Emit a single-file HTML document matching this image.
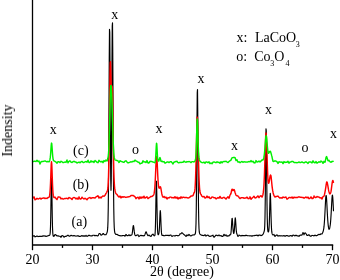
<!DOCTYPE html>
<html><head><meta charset="utf-8"><style>
html,body{margin:0;padding:0;background:#fff;overflow:hidden;}
svg{display:block;}
.t{filter:grayscale(1);}
text{font-family:"Liberation Serif",serif;font-size:14px;fill:#000;}
</style></head><body>
<svg width="340" height="280" viewBox="0 0 340 280">
<rect width="340" height="280" fill="#fff"/>
<polyline fill="none" stroke="#000" stroke-width="1.15" stroke-linejoin="round" points="33.00,236.5 33.25,236.2 33.50,236.0 33.75,235.8 34.00,235.6 34.25,235.9 34.50,236.2 34.75,236.5 35.00,236.8 35.25,236.7 35.50,236.6 35.75,236.6 36.00,236.5 36.25,236.4 36.50,236.2 36.75,236.1 37.00,236.0 37.25,236.1 37.50,236.3 37.75,236.4 38.00,236.6 38.25,236.5 38.50,236.5 38.75,236.5 39.00,236.4 39.25,236.4 39.50,236.4 39.75,236.4 40.00,236.4 40.25,236.4 40.50,236.3 40.75,236.3 41.00,236.2 41.25,236.3 41.50,236.4 41.75,236.4 42.00,236.5 42.25,236.3 42.50,236.1 42.75,236.0 43.00,235.8 43.25,235.9 43.50,235.9 43.75,236.0 44.00,236.1 44.25,236.0 44.50,236.0 44.75,235.9 45.00,235.9 45.25,236.0 45.50,236.2 45.75,236.3 46.00,236.5 46.25,236.4 46.50,236.3 46.75,236.2 47.00,236.1 47.25,236.0 47.50,236.0 47.75,235.9 48.00,235.8 48.25,235.7 48.50,235.6 48.75,235.5 49.00,235.4 49.25,235.4 49.50,235.3 49.75,235.1 50.00,234.4 50.25,232.3 50.50,226.8 50.75,216.2 51.00,200.5 51.25,185.0 51.50,178.1 51.75,184.9 52.00,200.4 52.25,216.2 52.50,227.2 52.75,232.8 53.00,235.2 53.25,236.0 53.50,236.2 53.75,236.3 54.00,236.3 54.25,235.9 54.50,235.4 54.75,234.9 55.00,234.5 55.25,234.6 55.50,234.7 55.75,234.9 56.00,235.0 56.25,235.2 56.50,235.5 56.75,235.7 57.00,236.0 57.25,235.9 57.50,235.9 57.75,235.9 58.00,235.8 58.25,235.9 58.50,236.0 58.75,236.1 59.00,236.2 59.25,236.2 59.50,236.2 59.75,236.2 60.00,236.2 60.25,236.5 60.50,236.7 60.75,237.0 61.00,237.3 61.25,236.8 61.50,236.4 61.75,235.9 62.00,235.5 62.25,235.6 62.50,235.7 62.75,235.8 63.00,235.9 63.25,236.2 63.50,236.5 63.75,236.9 64.00,237.2 64.25,237.0 64.50,236.8 64.75,236.6 65.00,236.4 65.25,236.4 65.50,236.4 65.75,236.4 66.00,236.4 66.25,236.3 66.50,236.1 66.75,235.9 67.00,235.8 67.25,235.6 67.50,235.5 67.75,235.3 68.00,235.2 68.25,235.4 68.50,235.6 68.75,235.9 69.00,236.1 69.25,236.1 69.50,236.1 69.75,236.1 70.00,236.1 70.25,235.9 70.50,235.7 70.75,235.5 71.00,235.4 71.25,235.4 71.50,235.5 71.75,235.6 72.00,235.7 72.25,235.7 72.50,235.8 72.75,235.9 73.00,236.0 73.25,235.9 73.50,235.7 73.75,235.6 74.00,235.5 74.25,235.6 74.50,235.7 74.75,235.8 75.00,236.0 75.25,236.0 75.50,236.0 75.75,236.0 76.00,236.1 76.25,236.0 76.50,236.0 76.75,236.0 77.00,236.0 77.25,235.9 77.50,235.9 77.75,235.8 78.00,235.7 78.25,235.9 78.50,236.0 78.75,236.2 79.00,236.3 79.25,236.3 79.50,236.4 79.75,236.4 80.00,236.5 80.25,236.4 80.50,236.3 80.75,236.2 81.00,236.1 81.25,236.0 81.50,235.8 81.75,235.7 82.00,235.5 82.25,235.7 82.50,235.9 82.75,236.1 83.00,236.3 83.25,236.2 83.50,236.0 83.75,235.8 84.00,235.7 84.25,235.8 84.50,236.0 84.75,236.2 85.00,236.4 85.25,236.1 85.50,235.9 85.75,235.6 86.00,235.3 86.25,235.6 86.50,235.9 86.75,236.1 87.00,236.4 87.25,236.3 87.50,236.1 87.75,236.0 88.00,235.9 88.25,235.7 88.50,235.5 88.75,235.4 89.00,235.2 89.25,235.3 89.50,235.4 89.75,235.6 90.00,235.7 90.25,235.7 90.50,235.8 90.75,235.8 91.00,235.9 91.25,235.9 91.50,235.9 91.75,235.9 92.00,236.0 92.25,235.8 92.50,235.6 92.75,235.4 93.00,235.3 93.25,235.2 93.50,235.2 93.75,235.2 94.00,235.2 94.25,235.3 94.50,235.5 94.75,235.7 95.00,235.8 95.25,235.7 95.50,235.6 95.75,235.5 96.00,235.4 96.25,235.5 96.50,235.6 96.75,235.7 97.00,235.7 97.25,235.8 97.50,235.8 97.75,235.8 98.00,235.8 98.25,235.4 98.50,234.9 98.75,234.3 99.00,233.7 99.25,233.6 99.50,233.6 99.75,233.5 100.00,233.7 100.25,233.9 100.50,234.3 100.75,234.7 101.00,235.1 101.25,235.1 101.50,235.1 101.75,234.9 102.00,234.7 102.25,234.5 102.50,234.3 102.75,233.9 103.00,233.5 103.25,233.5 103.50,233.6 103.75,234.0 104.00,234.5 104.25,234.6 104.50,234.7 104.75,234.7 105.00,234.7 105.25,234.7 105.50,234.7 105.75,234.6 106.00,234.6 106.25,234.2 106.50,233.7 106.75,233.2 107.00,232.6 107.25,231.8 107.50,230.3 107.75,227.4 108.00,221.0 108.25,208.3 108.50,184.8 108.75,148.5 109.00,102.5 109.25,57.2 109.50,29.4 109.75,32.3 110.00,64.0 110.25,109.4 110.50,151.9 110.75,180.5 111.00,190.3 111.25,179.6 111.50,149.9 111.75,106.0 112.00,59.1 112.25,26.1 112.50,22.8 112.75,51.2 113.00,97.5 113.25,145.2 113.50,183.0 113.75,207.4 114.00,220.8 114.25,227.5 114.50,230.6 114.75,232.3 115.00,233.3 115.25,233.7 115.50,234.0 115.75,234.3 116.00,234.5 116.25,234.5 116.50,234.5 116.75,234.4 117.00,234.4 117.25,234.5 117.50,234.7 117.75,234.9 118.00,235.0 118.25,235.2 118.50,235.3 118.75,235.4 119.00,235.5 119.25,235.5 119.50,235.6 119.75,235.6 120.00,235.6 120.25,235.7 120.50,235.8 120.75,235.9 121.00,236.0 121.25,235.9 121.50,235.8 121.75,235.7 122.00,235.7 122.25,235.6 122.50,235.6 122.75,235.6 123.00,235.5 123.25,235.5 123.50,235.5 123.75,235.5 124.00,235.5 124.25,235.7 124.50,235.8 124.75,236.0 125.00,236.2 125.25,235.8 125.50,235.3 125.75,234.9 126.00,234.4 126.25,234.7 126.50,235.0 126.75,235.3 127.00,235.6 127.25,235.6 127.50,235.6 127.75,235.6 128.00,235.7 128.25,235.4 128.50,235.2 128.75,235.0 129.00,234.8 129.25,235.0 129.50,235.3 129.75,235.5 130.00,235.7 130.25,235.5 130.50,235.4 130.75,235.2 131.00,235.0 131.25,235.1 131.50,235.1 131.75,234.9 132.00,234.4 132.25,233.2 132.50,231.5 132.75,229.3 133.00,227.0 133.25,225.6 133.50,225.6 133.75,227.0 134.00,229.2 134.25,231.4 134.50,233.1 134.75,234.4 135.00,235.2 135.25,235.5 135.50,235.6 135.75,235.6 136.00,235.6 136.25,235.5 136.50,235.4 136.75,235.2 137.00,235.1 137.25,235.0 137.50,235.0 137.75,234.9 138.00,234.8 138.25,235.3 138.50,235.7 138.75,236.2 139.00,236.6 139.25,236.4 139.50,236.1 139.75,235.9 140.00,235.6 140.25,235.6 140.50,235.5 140.75,235.4 141.00,235.3 141.25,235.4 141.50,235.5 141.75,235.6 142.00,235.8 142.25,235.7 142.50,235.6 142.75,235.6 143.00,235.5 143.25,235.6 143.50,235.8 143.75,235.9 144.00,235.9 144.25,235.7 144.50,235.4 144.75,234.9 145.00,234.3 145.25,233.6 145.50,232.8 145.75,232.1 146.00,231.8 146.25,232.0 146.50,232.6 146.75,233.3 147.00,233.9 147.25,234.6 147.50,235.1 147.75,235.4 148.00,235.7 148.25,235.6 148.50,235.4 148.75,235.2 149.00,235.0 149.25,235.3 149.50,235.5 149.75,235.8 150.00,236.0 150.25,236.1 150.50,236.2 150.75,236.4 151.00,236.5 151.25,236.0 151.50,235.6 151.75,235.2 152.00,234.8 152.25,234.6 152.50,234.5 152.75,234.3 153.00,234.1 153.25,234.5 153.50,234.9 153.75,235.3 154.00,235.6 154.25,235.7 154.50,235.8 154.75,235.7 155.00,234.8 155.25,231.2 155.50,223.8 155.75,211.1 156.00,195.1 156.25,182.6 156.50,181.2 156.75,191.9 157.00,207.5 157.25,220.8 157.50,229.0 157.75,232.9 158.00,234.5 158.25,234.7 158.50,234.6 158.75,234.0 159.00,232.8 159.25,230.5 159.50,226.2 159.75,220.1 160.00,213.9 160.25,210.5 160.50,212.1 160.75,217.6 161.00,224.2 161.25,229.6 161.50,232.9 161.75,234.6 162.00,235.3 162.25,235.5 162.50,235.4 162.75,235.4 163.00,235.3 163.25,235.4 163.50,235.5 163.75,235.7 164.00,235.8 164.25,235.7 164.50,235.7 164.75,235.6 165.00,235.6 165.25,235.5 165.50,235.4 165.75,235.3 166.00,235.2 166.25,235.3 166.50,235.4 166.75,235.5 167.00,235.5 167.25,235.5 167.50,235.4 167.75,235.3 168.00,235.2 168.25,235.3 168.50,235.5 168.75,235.6 169.00,235.7 169.25,235.6 169.50,235.4 169.75,235.3 170.00,235.1 170.25,235.1 170.50,235.1 170.75,235.1 171.00,235.1 171.25,235.5 171.50,235.8 171.75,236.2 172.00,236.5 172.25,236.3 172.50,236.1 172.75,235.9 173.00,235.7 173.25,235.7 173.50,235.7 173.75,235.7 174.00,235.7 174.25,235.8 174.50,235.8 174.75,235.9 175.00,236.0 175.25,235.8 175.50,235.7 175.75,235.6 176.00,235.4 176.25,235.5 176.50,235.5 176.75,235.5 177.00,235.5 177.25,235.6 177.50,235.6 177.75,235.7 178.00,235.8 178.25,235.7 178.50,235.6 178.75,235.5 179.00,235.4 179.25,235.1 179.50,234.7 179.75,234.3 180.00,233.8 180.25,233.8 180.50,233.8 180.75,233.8 181.00,233.7 181.25,233.3 181.50,233.0 181.75,232.8 182.00,232.8 182.25,232.9 182.50,233.2 182.75,233.4 183.00,233.6 183.25,233.9 183.50,234.2 183.75,234.4 184.00,234.6 184.25,234.8 184.50,235.0 184.75,235.1 185.00,235.2 185.25,235.6 185.50,235.9 185.75,236.2 186.00,236.5 186.25,236.1 186.50,235.7 186.75,235.3 187.00,234.9 187.25,235.1 187.50,235.3 187.75,235.5 188.00,235.7 188.25,235.4 188.50,235.0 188.75,234.7 189.00,234.4 189.25,234.7 189.50,235.0 189.75,235.3 190.00,235.5 190.25,235.7 190.50,235.8 190.75,235.9 191.00,236.0 191.25,235.8 191.50,235.6 191.75,235.4 192.00,235.3 192.25,235.2 192.50,235.1 192.75,235.0 193.00,234.9 193.25,234.9 193.50,235.0 193.75,235.0 194.00,235.0 194.25,234.9 194.50,234.8 194.75,234.6 195.00,234.4 195.25,233.8 195.50,232.7 195.75,230.0 196.00,223.7 196.25,210.8 196.50,187.8 196.75,155.0 197.00,119.0 197.25,92.6 197.50,89.6 197.75,111.7 198.00,146.9 198.25,181.2 198.50,206.4 198.75,221.2 199.00,228.5 199.25,231.7 199.50,233.1 199.75,233.8 200.00,234.2 200.25,234.4 200.50,234.6 200.75,234.8 201.00,234.9 201.25,235.0 201.50,235.2 201.75,235.2 202.00,235.3 202.25,235.4 202.50,235.4 202.75,235.4 203.00,235.4 203.25,235.5 203.50,235.5 203.75,235.6 204.00,235.6 204.25,235.4 204.50,235.2 204.75,234.9 205.00,234.7 205.25,235.0 205.50,235.4 205.75,235.7 206.00,236.1 206.25,235.9 206.50,235.7 206.75,235.5 207.00,235.4 207.25,235.3 207.50,235.2 207.75,235.1 208.00,235.1 208.25,235.3 208.50,235.6 208.75,235.8 209.00,236.1 209.25,236.2 209.50,236.3 209.75,236.4 210.00,236.5 210.25,236.3 210.50,236.2 210.75,236.1 211.00,236.0 211.25,236.0 211.50,235.9 211.75,235.9 212.00,235.8 212.25,235.7 212.50,235.5 212.75,235.4 213.00,235.2 213.25,235.8 213.50,236.3 213.75,236.8 214.00,237.3 214.25,237.1 214.50,236.8 214.75,236.5 215.00,236.3 215.25,236.0 215.50,235.7 215.75,235.4 216.00,235.1 216.25,235.2 216.50,235.3 216.75,235.3 217.00,235.4 217.25,235.5 217.50,235.6 217.75,235.7 218.00,235.8 218.25,235.6 218.50,235.4 218.75,235.2 219.00,234.9 219.25,235.2 219.50,235.4 219.75,235.6 220.00,235.9 220.25,235.8 220.50,235.7 220.75,235.6 221.00,235.5 221.25,235.8 221.50,236.0 221.75,236.2 222.00,236.5 222.25,236.4 222.50,236.4 222.75,236.3 223.00,236.3 223.25,235.8 223.50,235.3 223.75,234.8 224.00,234.3 224.25,234.7 224.50,235.0 224.75,235.4 225.00,235.8 225.25,235.5 225.50,235.3 225.75,235.1 226.00,234.8 226.25,235.2 226.50,235.6 226.75,235.9 227.00,236.3 227.25,236.2 227.50,236.0 227.75,235.9 228.00,235.7 228.25,235.8 228.50,235.8 228.75,235.8 229.00,235.8 229.25,235.5 229.50,235.3 229.75,234.9 230.00,234.6 230.25,234.8 230.50,234.7 230.75,234.2 231.00,232.8 231.25,229.8 231.50,225.8 231.75,221.4 232.00,218.5 232.25,218.4 232.50,221.3 232.75,225.2 233.00,228.6 233.25,231.4 233.50,232.9 233.75,233.4 234.00,233.0 234.25,231.2 234.50,228.1 234.75,224.0 235.00,220.0 235.25,217.9 235.50,219.0 235.75,222.7 236.00,226.9 236.25,230.3 236.50,232.4 236.75,233.6 237.00,234.1 237.25,234.8 237.50,235.4 237.75,236.0 238.00,236.5 238.25,236.2 238.50,235.8 238.75,235.5 239.00,235.1 239.25,235.2 239.50,235.3 239.75,235.4 240.00,235.6 240.25,235.7 240.50,235.8 240.75,235.9 241.00,236.0 241.25,235.9 241.50,235.7 241.75,235.6 242.00,235.4 242.25,235.5 242.50,235.6 242.75,235.6 243.00,235.7 243.25,235.6 243.50,235.6 243.75,235.6 244.00,235.5 244.25,235.6 244.50,235.6 244.75,235.7 245.00,235.8 245.25,235.6 245.50,235.5 245.75,235.3 246.00,235.2 246.25,235.3 246.50,235.4 246.75,235.5 247.00,235.6 247.25,235.6 247.50,235.7 247.75,235.7 248.00,235.7 248.25,235.7 248.50,235.7 248.75,235.7 249.00,235.7 249.25,235.7 249.50,235.8 249.75,235.8 250.00,235.9 250.25,235.8 250.50,235.8 250.75,235.7 251.00,235.7 251.25,235.8 251.50,236.0 251.75,236.1 252.00,236.2 252.25,236.1 252.50,235.9 252.75,235.8 253.00,235.6 253.25,235.7 253.50,235.7 253.75,235.7 254.00,235.7 254.25,235.7 254.50,235.6 254.75,235.5 255.00,235.4 255.25,235.4 255.50,235.5 255.75,235.5 256.00,235.5 256.25,235.4 256.50,235.3 256.75,235.2 257.00,235.0 257.25,235.3 257.50,235.5 257.75,235.7 258.00,236.0 258.25,235.7 258.50,235.5 258.75,235.2 259.00,235.0 259.25,235.0 259.50,235.1 259.75,235.1 260.00,235.1 260.25,235.2 260.50,235.3 260.75,235.5 261.00,235.6 261.25,235.5 261.50,235.4 261.75,235.4 262.00,235.3 262.25,235.1 262.50,234.8 262.75,234.6 263.00,234.2 263.25,233.8 263.50,233.2 263.75,232.6 264.00,231.8 264.25,231.1 264.50,229.6 264.75,225.7 265.00,217.0 265.25,200.5 265.50,176.0 265.75,148.1 266.00,128.8 266.25,130.9 266.50,152.8 266.75,180.5 267.00,203.2 267.25,218.2 267.50,226.2 267.75,229.9 268.00,231.7 268.25,232.0 268.50,231.8 268.75,230.9 269.00,228.6 269.25,224.3 269.50,217.2 269.75,207.8 270.00,198.4 270.25,193.4 270.50,196.0 270.75,204.6 271.00,214.7 271.25,223.0 271.50,228.5 271.75,231.7 272.00,233.2 272.25,234.0 272.50,234.5 272.75,234.8 273.00,235.0 273.25,234.9 273.50,234.8 273.75,234.6 274.00,234.4 274.25,235.0 274.50,235.5 274.75,236.0 275.00,236.5 275.25,236.2 275.50,235.9 275.75,235.6 276.00,235.3 276.25,235.2 276.50,235.1 276.75,235.0 277.00,234.9 277.25,235.2 277.50,235.5 277.75,235.8 278.00,236.1 278.25,236.0 278.50,235.9 278.75,235.8 279.00,235.6 279.25,235.7 279.50,235.8 279.75,235.9 280.00,236.0 280.25,235.9 280.50,235.9 280.75,235.8 281.00,235.7 281.25,235.7 281.50,235.8 281.75,235.8 282.00,235.9 282.25,235.9 282.50,236.0 282.75,236.0 283.00,236.0 283.25,235.9 283.50,235.8 283.75,235.6 284.00,235.5 284.25,235.7 284.50,235.9 284.75,236.1 285.00,236.3 285.25,236.1 285.50,236.0 285.75,235.8 286.00,235.7 286.25,235.6 286.50,235.6 286.75,235.5 287.00,235.5 287.25,235.6 287.50,235.7 287.75,235.9 288.00,236.0 288.25,236.0 288.50,236.1 288.75,236.1 289.00,236.2 289.25,236.1 289.50,236.0 289.75,235.9 290.00,235.8 290.25,235.7 290.50,235.6 290.75,235.6 291.00,235.5 291.25,235.7 291.50,235.9 291.75,236.1 292.00,236.3 292.25,236.0 292.50,235.6 292.75,235.3 293.00,235.0 293.25,235.1 293.50,235.2 293.75,235.3 294.00,235.4 294.25,235.5 294.50,235.7 294.75,235.8 295.00,235.9 295.25,235.7 295.50,235.5 295.75,235.4 296.00,235.2 296.25,235.3 296.50,235.5 296.75,235.7 297.00,235.9 297.25,235.9 297.50,235.9 297.75,235.8 298.00,235.8 298.25,235.9 298.50,236.1 298.75,236.2 299.00,236.3 299.25,236.0 299.50,235.7 299.75,235.5 300.00,235.2 300.25,235.2 300.50,235.1 300.75,235.1 301.00,235.0 301.25,235.1 301.50,235.1 301.75,235.0 302.00,235.0 302.25,234.4 302.50,233.8 302.75,233.2 303.00,232.5 303.25,233.0 303.50,233.6 303.75,234.1 304.00,234.8 304.25,234.1 304.50,233.6 304.75,233.2 305.00,232.8 305.25,233.0 305.50,233.2 305.75,233.4 306.00,233.6 306.25,234.1 306.50,234.5 306.75,235.0 307.00,235.4 307.25,235.4 307.50,235.4 307.75,235.4 308.00,235.4 308.25,235.2 308.50,235.0 308.75,234.8 309.00,234.6 309.25,235.0 309.50,235.3 309.75,235.7 310.00,236.0 310.25,236.1 310.50,236.1 310.75,236.1 311.00,236.2 311.25,236.0 311.50,235.8 311.75,235.6 312.00,235.4 312.25,235.5 312.50,235.5 312.75,235.5 313.00,235.5 313.25,235.6 313.50,235.7 313.75,235.8 314.00,235.9 314.25,235.7 314.50,235.5 314.75,235.3 315.00,235.1 315.25,235.2 315.50,235.4 315.75,235.6 316.00,235.7 316.25,235.7 316.50,235.6 316.75,235.6 317.00,235.5 317.25,235.4 317.50,235.2 317.75,235.0 318.00,234.9 318.25,234.7 318.50,234.6 318.75,234.5 319.00,234.3 319.25,234.4 319.50,234.5 319.75,234.6 320.00,234.6 320.25,234.5 320.50,234.3 320.75,234.0 321.00,233.8 321.25,233.9 321.50,234.0 321.75,234.0 322.00,234.0 322.25,233.6 322.50,233.1 322.75,232.5 323.00,231.8 323.25,231.1 323.50,230.0 323.75,228.6 324.00,226.7 324.25,224.0 324.50,220.6 324.75,216.4 325.00,211.7 325.25,206.7 325.50,201.8 325.75,197.7 326.00,195.5 326.25,195.5 326.50,197.9 326.75,201.9 327.00,206.6 327.25,211.6 327.50,216.2 327.75,220.1 328.00,223.2 328.25,225.6 328.50,227.4 328.75,228.6 329.00,229.3 329.25,229.2 329.50,228.8 329.75,227.9 330.00,226.5 330.25,224.9 330.50,222.6 330.75,219.6 331.00,215.9 331.25,211.6 331.50,206.9 331.75,202.1 332.00,198.0 332.25,195.4 332.50,195.2 332.75,197.4 333.00,201.4 333.25,206.3 333.50,211.3"/>
<polyline fill="none" stroke="#f00" stroke-width="1.45" stroke-linejoin="round" points="33.00,198.3 33.25,197.9 33.50,197.6 33.75,197.2 34.00,196.8 34.25,197.6 34.50,198.3 34.75,199.1 35.00,199.8 35.25,199.7 35.50,199.6 35.75,199.4 36.00,199.3 36.25,199.1 36.50,198.8 36.75,198.5 37.00,198.3 37.25,198.5 37.50,198.7 37.75,198.8 38.00,199.0 38.25,198.9 38.50,198.9 38.75,198.8 39.00,198.7 39.25,198.5 39.50,198.4 39.75,198.2 40.00,198.1 40.25,198.3 40.50,198.6 40.75,198.9 41.00,199.1 41.25,198.9 41.50,198.7 41.75,198.4 42.00,198.2 42.25,198.2 42.50,198.2 42.75,198.2 43.00,198.2 43.25,198.1 43.50,198.0 43.75,197.9 44.00,197.8 44.25,198.0 44.50,198.2 44.75,198.4 45.00,198.6 45.25,198.5 45.50,198.4 45.75,198.3 46.00,198.1 46.25,198.2 46.50,198.3 46.75,198.4 47.00,198.5 47.25,198.2 47.50,198.0 47.75,197.7 48.00,197.4 48.25,197.4 48.50,197.5 48.75,197.4 49.00,197.3 49.25,196.8 49.50,195.9 49.75,194.5 50.00,192.1 50.25,188.8 50.50,183.8 50.75,177.4 51.00,170.4 51.25,164.3 51.50,161.8 51.75,164.1 52.00,169.9 52.25,177.2 52.50,184.0 52.75,189.3 53.00,193.0 53.25,195.2 53.50,196.4 53.75,197.1 54.00,197.5 54.25,197.5 54.50,197.4 54.75,197.2 55.00,197.1 55.25,197.5 55.50,197.8 55.75,198.2 56.00,198.6 56.25,198.8 56.50,199.1 56.75,199.3 57.00,199.6 57.25,198.9 57.50,198.3 57.75,197.7 58.00,197.0 58.25,197.0 58.50,197.0 58.75,197.0 59.00,197.0 59.25,197.1 59.50,197.1 59.75,197.1 60.00,197.2 60.25,197.6 60.50,198.0 60.75,198.4 61.00,198.9 61.25,198.7 61.50,198.6 61.75,198.5 62.00,198.4 62.25,198.5 62.50,198.7 62.75,198.9 63.00,199.0 63.25,199.0 63.50,198.9 63.75,198.9 64.00,198.8 64.25,198.7 64.50,198.6 64.75,198.5 65.00,198.4 65.25,198.4 65.50,198.5 65.75,198.5 66.00,198.5 66.25,198.4 66.50,198.3 66.75,198.2 67.00,198.2 67.25,198.4 67.50,198.5 67.75,198.7 68.00,198.9 68.25,198.5 68.50,198.2 68.75,197.8 69.00,197.5 69.25,197.6 69.50,197.7 69.75,197.9 70.00,198.0 70.25,198.1 70.50,198.2 70.75,198.3 71.00,198.4 71.25,198.7 71.50,199.0 71.75,199.3 72.00,199.5 72.25,199.1 72.50,198.6 72.75,198.2 73.00,197.7 73.25,197.7 73.50,197.6 73.75,197.6 74.00,197.5 74.25,197.6 74.50,197.7 74.75,197.8 75.00,197.9 75.25,198.1 75.50,198.4 75.75,198.7 76.00,198.9 76.25,198.7 76.50,198.5 76.75,198.3 77.00,198.1 77.25,198.3 77.50,198.6 77.75,198.9 78.00,199.2 78.25,198.6 78.50,198.0 78.75,197.5 79.00,196.9 79.25,197.4 79.50,198.0 79.75,198.5 80.00,199.0 80.25,199.0 80.50,199.0 80.75,199.0 81.00,198.9 81.25,198.5 81.50,198.1 81.75,197.6 82.00,197.2 82.25,197.5 82.50,197.8 82.75,198.0 83.00,198.3 83.25,198.5 83.50,198.7 83.75,198.8 84.00,199.0 84.25,198.8 84.50,198.6 84.75,198.4 85.00,198.2 85.25,198.4 85.50,198.5 85.75,198.7 86.00,198.9 86.25,199.1 86.50,199.3 86.75,199.6 87.00,199.8 87.25,199.4 87.50,199.1 87.75,198.7 88.00,198.3 88.25,198.2 88.50,198.1 88.75,198.0 89.00,197.9 89.25,197.8 89.50,197.7 89.75,197.6 90.00,197.5 90.25,197.8 90.50,198.0 90.75,198.2 91.00,198.5 91.25,198.3 91.50,198.1 91.75,198.0 92.00,197.8 92.25,197.8 92.50,197.8 92.75,197.7 93.00,197.7 93.25,197.7 93.50,197.7 93.75,197.7 94.00,197.7 94.25,197.8 94.50,197.9 94.75,198.0 95.00,198.1 95.25,197.8 95.50,197.5 95.75,197.2 96.00,196.8 96.25,196.7 96.50,196.6 96.75,196.5 97.00,196.4 97.25,196.2 97.50,196.0 97.75,195.8 98.00,195.7 98.25,196.3 98.50,196.9 98.75,197.5 99.00,198.1 99.25,197.8 99.50,197.6 99.75,197.3 100.00,197.1 100.25,197.3 100.50,197.5 100.75,197.8 101.00,198.0 101.25,197.7 101.50,197.3 101.75,197.0 102.00,196.7 102.25,196.5 102.50,196.3 102.75,196.1 103.00,195.9 103.25,196.0 103.50,196.1 103.75,196.3 104.00,196.3 104.25,196.1 104.50,195.9 104.75,195.6 105.00,195.3 105.25,194.9 105.50,194.4 105.75,193.9 106.00,193.4 106.25,193.1 106.50,192.7 106.75,192.2 107.00,191.6 107.25,191.2 107.50,190.5 107.75,189.3 108.00,187.2 108.25,182.9 108.50,176.3 108.75,166.6 109.00,153.0 109.25,135.6 109.50,114.9 109.75,93.2 110.00,74.3 110.25,62.8 110.50,61.8 110.75,69.0 111.00,78.9 111.25,86.5 111.50,89.6 111.75,88.4 112.00,85.9 112.25,87.0 112.50,94.7 112.75,108.7 113.00,125.8 113.25,142.5 113.50,157.0 113.75,168.5 114.00,176.9 114.25,182.6 114.50,186.3 114.75,188.7 115.00,190.2 115.25,191.4 115.50,192.3 115.75,193.0 116.00,193.6 116.25,193.9 116.50,194.1 116.75,194.3 117.00,194.4 117.25,194.9 117.50,195.3 117.75,195.6 118.00,196.0 118.25,196.3 118.50,196.6 118.75,196.8 119.00,197.1 119.25,196.9 119.50,196.6 119.75,196.3 120.00,196.1 120.25,196.5 120.50,197.0 120.75,197.4 121.00,197.9 121.25,197.5 121.50,197.2 121.75,196.9 122.00,196.6 122.25,196.7 122.50,196.9 122.75,197.1 123.00,197.3 123.25,197.1 123.50,197.0 123.75,196.8 124.00,196.7 124.25,196.8 124.50,196.9 124.75,197.0 125.00,197.1 125.25,197.2 125.50,197.3 125.75,197.3 126.00,197.4 126.25,197.3 126.50,197.2 126.75,197.1 127.00,197.1 127.25,197.0 127.50,197.0 127.75,196.9 128.00,196.9 128.25,196.9 128.50,196.8 128.75,196.8 129.00,196.8 129.25,196.7 129.50,196.6 129.75,196.6 130.00,196.4 130.25,196.2 130.50,196.0 130.75,195.7 131.00,195.4 131.25,195.5 131.50,195.5 131.75,195.5 132.00,195.6 132.25,195.5 132.50,195.4 132.75,195.4 133.00,195.4 133.25,195.5 133.50,195.7 133.75,195.9 134.00,196.1 134.25,196.2 134.50,196.4 134.75,196.6 135.00,196.7 135.25,197.2 135.50,197.7 135.75,198.2 136.00,198.7 136.25,198.4 136.50,198.1 136.75,197.8 137.00,197.5 137.25,197.5 137.50,197.4 137.75,197.3 138.00,197.2 138.25,197.6 138.50,198.0 138.75,198.4 139.00,198.9 139.25,198.4 139.50,197.9 139.75,197.4 140.00,196.8 140.25,197.2 140.50,197.6 140.75,197.9 141.00,198.3 141.25,197.9 141.50,197.6 141.75,197.3 142.00,196.9 142.25,197.2 142.50,197.4 142.75,197.6 143.00,197.9 143.25,197.4 143.50,197.0 143.75,196.6 144.00,196.2 144.25,196.7 144.50,197.2 144.75,197.7 145.00,198.2 145.25,198.0 145.50,197.8 145.75,197.6 146.00,197.4 146.25,197.3 146.50,197.1 146.75,197.0 147.00,196.8 147.25,197.3 147.50,197.7 147.75,198.1 148.00,198.6 148.25,198.4 148.50,198.2 148.75,198.0 149.00,197.8 149.25,197.7 149.50,197.5 149.75,197.4 150.00,197.2 150.25,197.0 150.50,196.8 150.75,196.6 151.00,196.4 151.25,196.4 151.50,196.4 151.75,196.5 152.00,196.5 152.25,196.3 152.50,196.1 152.75,195.9 153.00,195.6 153.25,195.4 153.50,195.1 153.75,194.6 154.00,193.9 154.25,192.6 154.50,190.8 154.75,188.3 155.00,184.9 155.25,180.4 155.50,175.1 155.75,169.3 156.00,163.5 156.25,158.9 156.50,156.4 156.75,156.7 157.00,159.7 157.25,164.4 157.50,169.9 157.75,175.2 158.00,179.8 158.25,183.3 158.50,185.8 158.75,187.3 159.00,187.9 159.25,188.2 159.50,187.9 159.75,187.4 160.00,186.9 160.25,186.7 160.50,186.9 160.75,187.8 161.00,189.0 161.25,190.5 161.50,192.0 161.75,193.4 162.00,194.6 162.25,195.5 162.50,196.3 162.75,196.8 163.00,197.3 163.25,197.2 163.50,197.0 163.75,196.7 164.00,196.4 164.25,196.8 164.50,197.1 164.75,197.4 165.00,197.7 165.25,197.5 165.50,197.4 165.75,197.3 166.00,197.1 166.25,197.6 166.50,198.1 166.75,198.5 167.00,199.0 167.25,198.6 167.50,198.3 167.75,197.9 168.00,197.6 168.25,197.7 168.50,197.8 168.75,197.9 169.00,198.0 169.25,197.8 169.50,197.5 169.75,197.3 170.00,197.0 170.25,197.1 170.50,197.1 170.75,197.1 171.00,197.1 171.25,197.3 171.50,197.5 171.75,197.7 172.00,197.9 172.25,197.8 172.50,197.7 172.75,197.6 173.00,197.5 173.25,197.6 173.50,197.7 173.75,197.9 174.00,198.0 174.25,197.7 174.50,197.3 174.75,197.0 175.00,196.7 175.25,197.1 175.50,197.5 175.75,197.8 176.00,198.2 176.25,198.0 176.50,197.7 176.75,197.4 177.00,197.1 177.25,197.6 177.50,198.1 177.75,198.5 178.00,199.0 178.25,198.6 178.50,198.3 178.75,197.9 179.00,197.6 179.25,197.8 179.50,198.0 179.75,198.3 180.00,198.5 180.25,198.1 180.50,197.6 180.75,197.2 181.00,196.8 181.25,197.1 181.50,197.4 181.75,197.7 182.00,198.0 182.25,197.8 182.50,197.6 182.75,197.3 183.00,197.1 183.25,197.1 183.50,197.2 183.75,197.3 184.00,197.3 184.25,197.4 184.50,197.5 184.75,197.6 185.00,197.7 185.25,197.6 185.50,197.5 185.75,197.4 186.00,197.4 186.25,197.5 186.50,197.5 186.75,197.6 187.00,197.7 187.25,197.8 187.50,197.8 187.75,197.9 188.00,198.0 188.25,197.9 188.50,197.9 188.75,197.8 189.00,197.8 189.25,197.6 189.50,197.4 189.75,197.3 190.00,197.1 190.25,196.8 190.50,196.5 190.75,196.2 191.00,195.9 191.25,195.9 191.50,196.0 191.75,195.9 192.00,195.9 192.25,195.9 192.50,195.8 192.75,195.7 193.00,195.6 193.25,195.0 193.50,194.4 193.75,193.6 194.00,192.8 194.25,192.6 194.50,192.0 194.75,190.9 195.00,188.9 195.25,185.2 195.50,179.8 195.75,172.6 196.00,163.5 196.25,152.8 196.50,141.2 196.75,129.9 197.00,121.1 197.25,117.1 197.50,119.1 197.75,126.6 198.00,137.4 198.25,149.0 198.50,160.1 198.75,169.8 199.00,177.6 199.25,183.3 199.50,187.5 199.75,190.2 200.00,192.1 200.25,193.1 200.50,193.7 200.75,194.1 201.00,194.4 201.25,194.9 201.50,195.4 201.75,195.9 202.00,196.3 202.25,196.5 202.50,196.7 202.75,196.8 203.00,196.9 203.25,196.8 203.50,196.7 203.75,196.5 204.00,196.4 204.25,196.8 204.50,197.2 204.75,197.6 205.00,198.0 205.25,197.9 205.50,197.9 205.75,197.8 206.00,197.7 206.25,197.3 206.50,196.9 206.75,196.5 207.00,196.1 207.25,196.5 207.50,196.9 207.75,197.3 208.00,197.7 208.25,197.4 208.50,197.2 208.75,197.0 209.00,196.7 209.25,197.2 209.50,197.6 209.75,198.0 210.00,198.5 210.25,198.4 210.50,198.4 210.75,198.3 211.00,198.3 211.25,197.9 211.50,197.6 211.75,197.3 212.00,197.0 212.25,197.0 212.50,197.1 212.75,197.1 213.00,197.1 213.25,197.3 213.50,197.5 213.75,197.7 214.00,197.8 214.25,197.8 214.50,197.7 214.75,197.7 215.00,197.6 215.25,197.9 215.50,198.2 215.75,198.6 216.00,198.9 216.25,198.7 216.50,198.6 216.75,198.5 217.00,198.3 217.25,198.1 217.50,198.0 217.75,197.8 218.00,197.6 218.25,197.8 218.50,197.9 218.75,198.1 219.00,198.2 219.25,197.8 219.50,197.3 219.75,196.8 220.00,196.4 220.25,196.8 220.50,197.2 220.75,197.6 221.00,198.0 221.25,198.1 221.50,198.2 221.75,198.3 222.00,198.4 222.25,198.2 222.50,198.0 222.75,197.8 223.00,197.7 223.25,197.6 223.50,197.5 223.75,197.4 224.00,197.3 224.25,197.5 224.50,197.7 224.75,197.9 225.00,198.1 225.25,198.4 225.50,198.6 225.75,198.8 226.00,199.1 226.25,198.8 226.50,198.4 226.75,198.1 227.00,197.8 227.25,197.5 227.50,197.3 227.75,197.0 228.00,196.7 228.25,197.1 228.50,197.5 228.75,197.9 229.00,198.2 229.25,197.5 229.50,196.7 229.75,195.8 230.00,194.8 230.25,194.7 230.50,194.4 230.75,194.0 231.00,193.4 231.25,192.2 231.50,191.0 231.75,189.9 232.00,189.2 232.25,189.2 232.50,189.5 232.75,190.1 233.00,190.6 233.25,190.5 233.50,190.3 233.75,189.9 234.00,189.5 234.25,189.9 234.50,190.5 234.75,191.3 235.00,192.4 235.25,193.1 235.50,193.8 235.75,194.5 236.00,195.1 236.25,195.4 236.50,195.6 236.75,195.7 237.00,195.6 237.25,195.8 237.50,195.9 237.75,196.0 238.00,196.0 238.25,196.4 238.50,196.7 238.75,197.0 239.00,197.3 239.25,197.7 239.50,198.0 239.75,198.3 240.00,198.6 240.25,198.4 240.50,198.2 240.75,198.0 241.00,197.8 241.25,197.8 241.50,197.8 241.75,197.8 242.00,197.8 242.25,197.7 242.50,197.7 242.75,197.6 243.00,197.6 243.25,197.8 243.50,197.9 243.75,198.1 244.00,198.3 244.25,198.2 244.50,198.2 244.75,198.1 245.00,198.0 245.25,198.0 245.50,198.0 245.75,198.0 246.00,198.0 246.25,197.7 246.50,197.5 246.75,197.3 247.00,197.1 247.25,197.4 247.50,197.8 247.75,198.2 248.00,198.6 248.25,198.6 248.50,198.6 248.75,198.7 249.00,198.7 249.25,198.2 249.50,197.7 249.75,197.3 250.00,196.8 250.25,197.4 250.50,198.0 250.75,198.7 251.00,199.3 251.25,199.0 251.50,198.7 251.75,198.4 252.00,198.2 252.25,197.9 252.50,197.7 252.75,197.5 253.00,197.3 253.25,197.0 253.50,196.8 253.75,196.5 254.00,196.2 254.25,196.7 254.50,197.1 254.75,197.5 255.00,198.0 255.25,197.9 255.50,197.9 255.75,197.8 256.00,197.8 256.25,197.6 256.50,197.3 256.75,197.1 257.00,196.9 257.25,196.6 257.50,196.4 257.75,196.1 258.00,195.9 258.25,196.3 258.50,196.8 258.75,197.3 259.00,197.7 259.25,197.3 259.50,196.9 259.75,196.6 260.00,196.2 260.25,196.1 260.50,196.0 260.75,195.8 261.00,195.7 261.25,196.1 261.50,196.5 261.75,196.8 262.00,197.1 262.25,196.6 262.50,196.0 262.75,195.2 263.00,194.2 263.25,192.7 263.50,190.6 263.75,187.8 264.00,184.0 264.25,179.0 264.50,172.7 264.75,165.1 265.00,156.6 265.25,148.2 265.50,140.6 265.75,135.0 266.00,133.0 266.25,134.5 266.50,139.5 266.75,146.5 267.00,154.3 267.25,162.5 267.50,169.7 267.75,175.5 268.00,179.8 268.25,182.1 268.50,183.2 268.75,183.2 269.00,182.5 269.25,181.3 269.50,179.8 269.75,178.1 270.00,176.6 270.25,175.5 270.50,175.0 270.75,175.2 271.00,176.2 271.25,178.2 271.50,180.5 271.75,183.0 272.00,185.6 272.25,187.6 272.50,189.4 272.75,190.9 273.00,192.2 273.25,193.3 273.50,194.2 273.75,194.9 274.00,195.5 274.25,196.0 274.50,196.4 274.75,196.8 275.00,197.1 275.25,196.9 275.50,196.8 275.75,196.6 276.00,196.4 276.25,196.4 276.50,196.4 276.75,196.4 277.00,196.3 277.25,196.3 277.50,196.2 277.75,196.2 278.00,196.1 278.25,196.4 278.50,196.7 278.75,197.0 279.00,197.3 279.25,197.5 279.50,197.7 279.75,197.9 280.00,198.1 280.25,198.0 280.50,197.9 280.75,197.7 281.00,197.6 281.25,197.7 281.50,197.9 281.75,198.0 282.00,198.2 282.25,197.9 282.50,197.6 282.75,197.3 283.00,197.0 283.25,197.1 283.50,197.2 283.75,197.4 284.00,197.5 284.25,197.5 284.50,197.4 284.75,197.4 285.00,197.3 285.25,197.2 285.50,197.2 285.75,197.1 286.00,197.0 286.25,197.6 286.50,198.1 286.75,198.7 287.00,199.2 287.25,199.0 287.50,198.9 287.75,198.7 288.00,198.5 288.25,198.2 288.50,198.0 288.75,197.7 289.00,197.4 289.25,197.4 289.50,197.4 289.75,197.4 290.00,197.4 290.25,197.5 290.50,197.7 290.75,197.8 291.00,197.9 291.25,197.7 291.50,197.5 291.75,197.2 292.00,197.0 292.25,197.3 292.50,197.6 292.75,198.0 293.00,198.3 293.25,198.0 293.50,197.7 293.75,197.4 294.00,197.1 294.25,197.3 294.50,197.4 294.75,197.6 295.00,197.7 295.25,197.6 295.50,197.5 295.75,197.4 296.00,197.3 296.25,197.4 296.50,197.5 296.75,197.6 297.00,197.7 297.25,197.5 297.50,197.4 297.75,197.2 298.00,197.0 298.25,197.0 298.50,196.9 298.75,196.9 299.00,196.8 299.25,196.9 299.50,197.0 299.75,197.1 300.00,197.2 300.25,197.2 300.50,197.2 300.75,197.3 301.00,197.3 301.25,197.3 301.50,197.3 301.75,197.4 302.00,197.4 302.25,197.4 302.50,197.4 302.75,197.4 303.00,197.4 303.25,197.6 303.50,197.8 303.75,198.0 304.00,198.2 304.25,198.1 304.50,197.9 304.75,197.8 305.00,197.6 305.25,197.5 305.50,197.3 305.75,197.1 306.00,197.0 306.25,197.2 306.50,197.4 306.75,197.6 307.00,197.9 307.25,197.7 307.50,197.5 307.75,197.3 308.00,197.1 308.25,197.5 308.50,197.9 308.75,198.3 309.00,198.7 309.25,198.6 309.50,198.5 309.75,198.4 310.00,198.2 310.25,197.9 310.50,197.6 310.75,197.3 311.00,196.9 311.25,197.3 311.50,197.7 311.75,198.1 312.00,198.5 312.25,198.5 312.50,198.5 312.75,198.5 313.00,198.5 313.25,197.9 313.50,197.3 313.75,196.7 314.00,196.0 314.25,196.4 314.50,196.7 314.75,197.0 315.00,197.4 315.25,197.4 315.50,197.5 315.75,197.5 316.00,197.5 316.25,197.3 316.50,197.0 316.75,196.8 317.00,196.5 317.25,196.6 317.50,196.8 317.75,196.9 318.00,197.0 318.25,197.0 318.50,197.0 318.75,197.0 319.00,197.0 319.25,197.3 319.50,197.5 319.75,197.7 320.00,197.9 320.25,197.9 320.50,197.8 320.75,197.7 321.00,197.6 321.25,198.0 321.50,198.3 321.75,198.7 322.00,199.0 322.25,198.4 322.50,197.7 322.75,197.1 323.00,196.4 323.25,196.4 323.50,196.4 323.75,196.3 324.00,196.1 324.25,195.3 324.50,194.4 324.75,193.3 325.00,191.9 325.25,190.6 325.50,189.2 325.75,187.6 326.00,185.9 326.25,184.2 326.50,182.8 326.75,182.0 327.00,181.9 327.25,182.6 327.50,183.8 327.75,185.1 328.00,186.6 328.25,188.2 328.50,189.7 328.75,190.9 329.00,191.9 329.25,192.8 329.50,193.4 329.75,193.7 330.00,193.9 330.25,193.6 330.50,193.1 330.75,192.4 331.00,191.4 331.25,189.8 331.50,187.9 331.75,186.0 332.00,184.0 332.25,182.3 332.50,181.1 332.75,180.5 333.00,180.8 333.25,181.6 333.50,183.0"/>
<polyline fill="none" stroke="#00f000" stroke-width="1.45" stroke-linejoin="round" points="33.00,161.9 33.25,161.7 33.50,161.5 33.75,161.4 34.00,161.2 34.25,161.2 34.50,161.2 34.75,161.3 35.00,161.3 35.25,161.3 35.50,161.4 35.75,161.4 36.00,161.5 36.25,161.2 36.50,160.8 36.75,160.5 37.00,160.2 37.25,160.5 37.50,160.8 37.75,161.2 38.00,161.5 38.25,161.4 38.50,161.3 38.75,161.2 39.00,161.0 39.25,161.8 39.50,162.5 39.75,163.3 40.00,164.0 40.25,163.4 40.50,162.9 40.75,162.4 41.00,161.8 41.25,161.7 41.50,161.6 41.75,161.5 42.00,161.4 42.25,161.4 42.50,161.5 42.75,161.5 43.00,161.5 43.25,161.4 43.50,161.3 43.75,161.3 44.00,161.2 44.25,161.1 44.50,161.1 44.75,161.0 45.00,160.9 45.25,161.0 45.50,161.2 45.75,161.3 46.00,161.4 46.25,161.5 46.50,161.7 46.75,161.8 47.00,161.9 47.25,161.8 47.50,161.6 47.75,161.5 48.00,161.3 48.25,161.5 48.50,161.7 48.75,161.8 49.00,161.9 49.25,161.6 49.50,161.1 49.75,160.4 50.00,159.2 50.25,157.7 50.50,155.3 50.75,152.1 51.00,148.3 51.25,145.0 51.50,143.1 51.75,143.6 52.00,146.5 52.25,150.0 52.50,153.6 52.75,156.5 53.00,158.6 53.25,159.9 53.50,160.5 53.75,160.8 54.00,160.8 54.25,161.0 54.50,161.2 54.75,161.3 55.00,161.4 55.25,161.6 55.50,161.8 55.75,161.9 56.00,162.1 56.25,162.4 56.50,162.6 56.75,162.9 57.00,163.2 57.25,162.8 57.50,162.4 57.75,162.0 58.00,161.7 58.25,161.7 58.50,161.7 58.75,161.7 59.00,161.7 59.25,161.9 59.50,162.2 59.75,162.4 60.00,162.6 60.25,162.3 60.50,162.0 60.75,161.6 61.00,161.3 61.25,161.4 61.50,161.5 61.75,161.6 62.00,161.7 62.25,162.0 62.50,162.2 62.75,162.4 63.00,162.6 63.25,162.5 63.50,162.5 63.75,162.4 64.00,162.4 64.25,162.3 64.50,162.2 64.75,162.1 65.00,162.0 65.25,162.1 65.50,162.2 65.75,162.3 66.00,162.4 66.25,161.8 66.50,161.2 66.75,160.6 67.00,160.0 67.25,160.7 67.50,161.3 67.75,162.0 68.00,162.7 68.25,162.4 68.50,162.0 68.75,161.7 69.00,161.3 69.25,161.2 69.50,161.1 69.75,160.9 70.00,160.8 70.25,161.2 70.50,161.5 70.75,161.8 71.00,162.2 71.25,162.3 71.50,162.3 71.75,162.4 72.00,162.5 72.25,162.3 72.50,162.1 72.75,161.9 73.00,161.7 73.25,161.6 73.50,161.5 73.75,161.4 74.00,161.2 74.25,161.4 74.50,161.6 74.75,161.8 75.00,162.0 75.25,162.0 75.50,162.0 75.75,162.0 76.00,162.0 76.25,162.2 76.50,162.5 76.75,162.7 77.00,163.0 77.25,162.9 77.50,162.8 77.75,162.6 78.00,162.5 78.25,162.4 78.50,162.3 78.75,162.2 79.00,162.1 79.25,162.3 79.50,162.5 79.75,162.6 80.00,162.8 80.25,162.6 80.50,162.3 80.75,162.1 81.00,161.9 81.25,161.7 81.50,161.6 81.75,161.5 82.00,161.4 82.25,161.6 82.50,161.9 82.75,162.1 83.00,162.4 83.25,162.4 83.50,162.4 83.75,162.4 84.00,162.4 84.25,162.3 84.50,162.1 84.75,162.0 85.00,161.9 85.25,161.8 85.50,161.7 85.75,161.6 86.00,161.5 86.25,161.6 86.50,161.8 86.75,162.0 87.00,162.2 87.25,161.7 87.50,161.2 87.75,160.7 88.00,160.2 88.25,160.8 88.50,161.4 88.75,161.9 89.00,162.5 89.25,162.4 89.50,162.4 89.75,162.4 90.00,162.3 90.25,162.0 90.50,161.6 90.75,161.2 91.00,160.8 91.25,161.1 91.50,161.4 91.75,161.7 92.00,162.0 92.25,161.8 92.50,161.7 92.75,161.5 93.00,161.3 93.25,161.6 93.50,161.9 93.75,162.2 94.00,162.5 94.25,162.0 94.50,161.5 94.75,161.0 95.00,160.5 95.25,160.7 95.50,160.9 95.75,161.1 96.00,161.3 96.25,161.6 96.50,161.8 96.75,162.1 97.00,162.4 97.25,162.5 97.50,162.5 97.75,162.6 98.00,162.7 98.25,162.1 98.50,161.5 98.75,160.9 99.00,160.3 99.25,160.6 99.50,160.9 99.75,161.2 100.00,161.4 100.25,161.6 100.50,161.7 100.75,161.8 101.00,162.0 101.25,161.8 101.50,161.6 101.75,161.4 102.00,161.2 102.25,161.6 102.50,162.0 102.75,162.3 103.00,162.7 103.25,162.1 103.50,161.6 103.75,161.1 104.00,160.6 104.25,160.8 104.50,161.0 104.75,161.2 105.00,161.4 105.25,161.1 105.50,160.7 105.75,160.4 106.00,160.0 106.25,160.3 106.50,160.5 106.75,160.8 107.00,161.0 107.25,160.4 107.50,159.7 107.75,158.8 108.00,157.6 108.25,156.0 108.50,153.5 108.75,149.8 109.00,144.4 109.25,137.1 109.50,127.9 109.75,117.3 110.00,106.1 110.25,96.4 110.50,89.1 110.75,85.4 111.00,85.4 111.25,87.2 111.50,90.7 111.75,95.4 112.00,101.6 112.25,109.5 112.50,118.4 112.75,127.3 113.00,135.5 113.25,142.6 113.50,148.2 113.75,152.5 114.00,155.5 114.25,157.4 114.50,158.6 114.75,159.3 115.00,159.7 115.25,160.0 115.50,160.1 115.75,160.1 116.00,160.1 116.25,160.3 116.50,160.4 116.75,160.5 117.00,160.5 117.25,160.6 117.50,160.7 117.75,160.8 118.00,160.8 118.25,161.3 118.50,161.7 118.75,162.1 119.00,162.5 119.25,162.1 119.50,161.6 119.75,161.2 120.00,160.7 120.25,160.9 120.50,161.0 120.75,161.2 121.00,161.4 121.25,161.5 121.50,161.5 121.75,161.6 122.00,161.6 122.25,161.8 122.50,161.9 122.75,162.0 123.00,162.1 123.25,162.2 123.50,162.2 123.75,162.3 124.00,162.4 124.25,162.1 124.50,161.7 124.75,161.4 125.00,161.1 125.25,161.0 125.50,161.0 125.75,160.9 126.00,160.8 126.25,161.1 126.50,161.4 126.75,161.7 127.00,162.0 127.25,162.2 127.50,162.5 127.75,162.7 128.00,162.9 128.25,162.8 128.50,162.7 128.75,162.7 129.00,162.6 129.25,162.5 129.50,162.4 129.75,162.3 130.00,162.2 130.25,162.1 130.50,162.0 130.75,161.8 131.00,161.7 131.25,161.8 131.50,161.9 131.75,161.9 132.00,162.0 132.25,161.8 132.50,161.6 132.75,161.5 133.00,161.3 133.25,161.3 133.50,161.4 133.75,161.5 134.00,161.5 134.25,161.1 134.50,160.8 134.75,160.4 135.00,160.1 135.25,160.3 135.50,160.5 135.75,160.8 136.00,161.1 136.25,161.1 136.50,161.2 136.75,161.3 137.00,161.4 137.25,161.6 137.50,161.8 137.75,162.0 138.00,162.2 138.25,162.2 138.50,162.2 138.75,162.2 139.00,162.2 139.25,162.6 139.50,163.1 139.75,163.5 140.00,163.9 140.25,163.7 140.50,163.6 140.75,163.4 141.00,163.2 141.25,163.2 141.50,163.2 141.75,163.2 142.00,163.2 142.25,162.6 142.50,162.0 142.75,161.4 143.00,160.8 143.25,161.1 143.50,161.4 143.75,161.7 144.00,162.0 144.25,161.9 144.50,161.9 144.75,161.8 145.00,161.8 145.25,162.0 145.50,162.2 145.75,162.4 146.00,162.6 146.25,162.1 146.50,161.6 146.75,161.1 147.00,160.6 147.25,161.2 147.50,161.8 147.75,162.4 148.00,163.0 148.25,163.0 148.50,163.0 148.75,163.0 149.00,162.9 149.25,162.5 149.50,162.1 149.75,161.7 150.00,161.3 150.25,161.3 150.50,161.4 150.75,161.4 151.00,161.5 151.25,161.5 151.50,161.5 151.75,161.5 152.00,161.6 152.25,161.7 152.50,161.8 152.75,161.9 153.00,162.1 153.25,162.1 153.50,162.2 153.75,162.3 154.00,162.3 154.25,162.5 154.50,162.6 154.75,162.7 155.00,162.6 155.25,161.4 155.50,159.4 155.75,156.1 156.00,151.3 156.25,146.5 156.50,143.2 156.75,143.8 157.00,147.9 157.25,152.7 157.50,156.7 157.75,159.2 158.00,160.3 158.25,161.0 158.50,161.1 158.75,161.0 159.00,160.6 159.25,159.6 159.50,158.6 159.75,157.8 160.00,157.6 160.25,158.3 160.50,159.3 160.75,160.3 161.00,161.2 161.25,161.4 161.50,161.5 161.75,161.3 162.00,161.1 162.25,161.3 162.50,161.5 162.75,161.7 163.00,161.9 163.25,161.8 163.50,161.7 163.75,161.7 164.00,161.6 164.25,162.0 164.50,162.4 164.75,162.8 165.00,163.2 165.25,163.1 165.50,162.9 165.75,162.8 166.00,162.7 166.25,162.5 166.50,162.3 166.75,162.2 167.00,162.0 167.25,162.0 167.50,162.0 167.75,161.9 168.00,161.9 168.25,162.1 168.50,162.2 168.75,162.4 169.00,162.6 169.25,162.4 169.50,162.2 169.75,162.0 170.00,161.7 170.25,161.7 170.50,161.7 170.75,161.6 171.00,161.6 171.25,161.8 171.50,162.1 171.75,162.3 172.00,162.6 172.25,162.9 172.50,163.3 172.75,163.6 173.00,164.0 173.25,163.5 173.50,163.0 173.75,162.5 174.00,162.1 174.25,162.0 174.50,162.0 174.75,161.9 175.00,161.9 175.25,161.7 175.50,161.6 175.75,161.5 176.00,161.4 176.25,161.4 176.50,161.4 176.75,161.3 177.00,161.3 177.25,161.6 177.50,162.0 177.75,162.3 178.00,162.6 178.25,162.7 178.50,162.7 178.75,162.8 179.00,162.8 179.25,162.7 179.50,162.5 179.75,162.4 180.00,162.2 180.25,162.3 180.50,162.4 180.75,162.4 181.00,162.5 181.25,162.4 181.50,162.4 181.75,162.3 182.00,162.3 182.25,162.3 182.50,162.3 182.75,162.3 183.00,162.3 183.25,162.0 183.50,161.7 183.75,161.4 184.00,161.1 184.25,161.3 184.50,161.5 184.75,161.7 185.00,161.9 185.25,162.0 185.50,162.1 185.75,162.2 186.00,162.3 186.25,162.1 186.50,161.9 186.75,161.8 187.00,161.6 187.25,161.7 187.50,161.7 187.75,161.8 188.00,161.8 188.25,161.8 188.50,161.7 188.75,161.6 189.00,161.5 189.25,161.6 189.50,161.7 189.75,161.8 190.00,161.8 190.25,162.0 190.50,162.2 190.75,162.4 191.00,162.6 191.25,162.4 191.50,162.1 191.75,161.9 192.00,161.6 192.25,161.6 192.50,161.6 192.75,161.6 193.00,161.6 193.25,161.7 193.50,161.8 193.75,161.9 194.00,161.9 194.25,161.7 194.50,161.5 194.75,161.2 195.00,160.8 195.25,160.4 195.50,159.5 195.75,157.8 196.00,154.7 196.25,148.8 196.50,140.9 196.75,131.6 197.00,122.8 197.25,119.0 197.50,121.4 197.75,129.0 198.00,138.2 198.25,146.0 198.50,151.8 198.75,155.6 199.00,157.7 199.25,159.2 199.50,160.0 199.75,160.6 200.00,161.0 200.25,161.3 200.50,161.6 200.75,161.9 201.00,162.1 201.25,162.2 201.50,162.4 201.75,162.5 202.00,162.6 202.25,162.6 202.50,162.6 202.75,162.7 203.00,162.7 203.25,162.5 203.50,162.4 203.75,162.3 204.00,162.1 204.25,162.4 204.50,162.7 204.75,163.0 205.00,163.2 205.25,162.9 205.50,162.6 205.75,162.3 206.00,161.9 206.25,162.0 206.50,162.0 206.75,162.0 207.00,162.1 207.25,162.2 207.50,162.4 207.75,162.6 208.00,162.7 208.25,162.5 208.50,162.3 208.75,162.0 209.00,161.8 209.25,162.3 209.50,162.8 209.75,163.2 210.00,163.7 210.25,163.5 210.50,163.3 210.75,163.1 211.00,162.9 211.25,163.1 211.50,163.3 211.75,163.5 212.00,163.7 212.25,163.3 212.50,163.0 212.75,162.6 213.00,162.2 213.25,162.1 213.50,162.1 213.75,162.0 214.00,161.9 214.25,162.0 214.50,162.1 214.75,162.2 215.00,162.3 215.25,162.4 215.50,162.5 215.75,162.6 216.00,162.7 216.25,162.5 216.50,162.3 216.75,162.0 217.00,161.8 217.25,162.0 217.50,162.1 217.75,162.3 218.00,162.5 218.25,162.4 218.50,162.3 218.75,162.3 219.00,162.2 219.25,162.5 219.50,162.8 219.75,163.0 220.00,163.3 220.25,162.9 220.50,162.5 220.75,162.1 221.00,161.7 221.25,162.0 221.50,162.3 221.75,162.6 222.00,162.9 222.25,162.6 222.50,162.3 222.75,162.0 223.00,161.7 223.25,161.6 223.50,161.6 223.75,161.5 224.00,161.5 224.25,161.5 224.50,161.5 224.75,161.6 225.00,161.6 225.25,161.5 225.50,161.4 225.75,161.3 226.00,161.2 226.25,161.4 226.50,161.6 226.75,161.8 227.00,162.0 227.25,162.2 227.50,162.3 227.75,162.4 228.00,162.5 228.25,162.2 228.50,162.0 228.75,161.7 229.00,161.4 229.25,161.3 229.50,161.2 229.75,161.0 230.00,160.8 230.25,160.6 230.50,160.5 230.75,160.3 231.00,160.1 231.25,159.5 231.50,158.9 231.75,158.3 232.00,157.9 232.25,157.7 232.50,157.6 232.75,157.6 233.00,157.6 233.25,157.5 233.50,157.5 233.75,157.5 234.00,157.5 234.25,157.4 234.50,157.4 234.75,157.5 235.00,157.5 235.25,158.3 235.50,159.1 235.75,159.8 236.00,160.6 236.25,160.4 236.50,160.3 236.75,160.1 237.00,159.8 237.25,160.4 237.50,161.0 237.75,161.5 238.00,162.1 238.25,162.0 238.50,162.0 238.75,161.9 239.00,161.8 239.25,162.1 239.50,162.3 239.75,162.5 240.00,162.7 240.25,162.6 240.50,162.4 240.75,162.2 241.00,162.0 241.25,161.8 241.50,161.7 241.75,161.6 242.00,161.5 242.25,161.7 242.50,161.9 242.75,162.1 243.00,162.3 243.25,162.2 243.50,162.0 243.75,161.9 244.00,161.7 244.25,161.8 244.50,161.8 244.75,161.9 245.00,162.0 245.25,162.0 245.50,162.0 245.75,162.1 246.00,162.1 246.25,162.1 246.50,162.1 246.75,162.0 247.00,162.0 247.25,162.0 247.50,162.0 247.75,162.0 248.00,162.0 248.25,161.8 248.50,161.7 248.75,161.6 249.00,161.5 249.25,161.6 249.50,161.7 249.75,161.8 250.00,161.9 250.25,161.6 250.50,161.3 250.75,160.9 251.00,160.6 251.25,160.9 251.50,161.3 251.75,161.6 252.00,161.9 252.25,161.8 252.50,161.6 252.75,161.4 253.00,161.2 253.25,161.6 253.50,162.0 253.75,162.4 254.00,162.8 254.25,162.8 254.50,162.8 254.75,162.9 255.00,162.9 255.25,162.3 255.50,161.7 255.75,161.2 256.00,160.6 256.25,160.9 256.50,161.3 256.75,161.6 257.00,162.0 257.25,161.9 257.50,161.9 257.75,161.8 258.00,161.8 258.25,161.6 258.50,161.4 258.75,161.2 259.00,161.0 259.25,161.3 259.50,161.5 259.75,161.8 260.00,162.0 260.25,161.8 260.50,161.6 260.75,161.3 261.00,161.1 261.25,160.8 261.50,160.5 261.75,160.2 262.00,159.8 262.25,160.0 262.50,160.0 262.75,160.0 263.00,160.0 263.25,159.5 263.50,158.8 263.75,157.9 264.00,156.6 264.25,155.0 264.50,152.9 264.75,150.3 265.00,147.4 265.25,144.0 265.50,140.7 265.75,137.8 266.00,135.8 266.25,135.7 266.50,136.8 266.75,139.1 267.00,142.1 267.25,145.0 267.50,147.8 267.75,150.1 268.00,152.0 268.25,152.9 268.50,153.3 268.75,153.2 269.00,152.7 269.25,152.4 269.50,151.9 269.75,151.5 270.00,151.2 270.25,151.2 270.50,151.5 270.75,152.2 271.00,153.1 271.25,154.0 271.50,154.9 271.75,155.9 272.00,156.8 272.25,158.1 272.50,159.3 272.75,160.3 273.00,161.3 273.25,161.4 273.50,161.5 273.75,161.4 274.00,161.3 274.25,161.3 274.50,161.1 274.75,161.0 275.00,160.8 275.25,160.9 275.50,161.0 275.75,161.1 276.00,161.1 276.25,161.3 276.50,161.4 276.75,161.6 277.00,161.7 277.25,162.2 277.50,162.6 277.75,163.0 278.00,163.4 278.25,163.0 278.50,162.6 278.75,162.2 279.00,161.7 279.25,161.8 279.50,161.9 279.75,161.9 280.00,162.0 280.25,162.1 280.50,162.1 280.75,162.2 281.00,162.3 281.25,162.2 281.50,162.1 281.75,162.0 282.00,161.9 282.25,162.3 282.50,162.7 282.75,163.1 283.00,163.6 283.25,163.1 283.50,162.6 283.75,162.1 284.00,161.6 284.25,161.8 284.50,162.0 284.75,162.3 285.00,162.5 285.25,162.4 285.50,162.3 285.75,162.2 286.00,162.1 286.25,162.2 286.50,162.3 286.75,162.3 287.00,162.4 287.25,162.1 287.50,161.8 287.75,161.5 288.00,161.2 288.25,161.7 288.50,162.2 288.75,162.7 289.00,163.2 289.25,162.9 289.50,162.6 289.75,162.2 290.00,161.9 290.25,161.9 290.50,162.0 290.75,162.0 291.00,162.0 291.25,161.8 291.50,161.7 291.75,161.5 292.00,161.3 292.25,161.4 292.50,161.4 292.75,161.4 293.00,161.5 293.25,161.7 293.50,161.9 293.75,162.2 294.00,162.4 294.25,162.4 294.50,162.5 294.75,162.6 295.00,162.7 295.25,162.6 295.50,162.6 295.75,162.5 296.00,162.5 296.25,162.6 296.50,162.7 296.75,162.7 297.00,162.8 297.25,162.7 297.50,162.6 297.75,162.6 298.00,162.5 298.25,162.4 298.50,162.2 298.75,162.1 299.00,162.0 299.25,162.1 299.50,162.3 299.75,162.4 300.00,162.6 300.25,162.5 300.50,162.5 300.75,162.4 301.00,162.4 301.25,162.3 301.50,162.2 301.75,162.0 302.00,161.9 302.25,162.1 302.50,162.2 302.75,162.4 303.00,162.5 303.25,162.6 303.50,162.7 303.75,162.8 304.00,162.9 304.25,162.7 304.50,162.5 304.75,162.4 305.00,162.2 305.25,162.1 305.50,162.0 305.75,161.9 306.00,161.8 306.25,162.0 306.50,162.2 306.75,162.4 307.00,162.5 307.25,162.8 307.50,163.0 307.75,163.2 308.00,163.4 308.25,163.0 308.50,162.6 308.75,162.3 309.00,161.9 309.25,161.9 309.50,162.0 309.75,162.0 310.00,162.0 310.25,162.0 310.50,162.0 310.75,162.0 311.00,162.0 311.25,162.2 311.50,162.5 311.75,162.7 312.00,162.9 312.25,162.4 312.50,161.9 312.75,161.3 313.00,160.8 313.25,161.2 313.50,161.6 313.75,162.0 314.00,162.4 314.25,162.5 314.50,162.6 314.75,162.8 315.00,162.9 315.25,162.6 315.50,162.2 315.75,161.9 316.00,161.5 316.25,162.0 316.50,162.4 316.75,162.8 317.00,163.2 317.25,163.0 317.50,162.8 317.75,162.7 318.00,162.5 318.25,162.3 318.50,162.1 318.75,161.9 319.00,161.7 319.25,161.9 319.50,162.0 319.75,162.1 320.00,162.3 320.25,162.0 320.50,161.7 320.75,161.4 321.00,161.0 321.25,161.2 321.50,161.4 321.75,161.5 322.00,161.7 322.25,162.1 322.50,162.5 322.75,162.9 323.00,163.3 323.25,162.9 323.50,162.4 323.75,161.8 324.00,161.3 324.25,161.7 324.50,162.0 324.75,162.2 325.00,162.3 325.25,161.3 325.50,160.2 325.75,158.9 326.00,157.6 326.25,156.9 326.50,156.6 326.75,156.8 327.00,157.6 327.25,158.4 327.50,159.2 327.75,160.0 328.00,160.6 328.25,160.8 328.50,160.7 328.75,160.6 329.00,160.3 329.25,160.7 329.50,161.1 329.75,161.4 330.00,161.7 330.25,161.9 330.50,162.0 330.75,162.2 331.00,162.3 331.25,162.1 331.50,161.9 331.75,161.6 332.00,161.4 332.25,161.4 332.50,161.4 332.75,161.3 333.00,161.3 333.25,161.6 333.50,161.9"/>
<line x1="32.5" y1="0" x2="32.5" y2="245" stroke="#000" stroke-width="1.3"/>
<line x1="32" y1="245" x2="333.2" y2="245" stroke="#000" stroke-width="1.6"/>
<line x1="32.5" y1="245" x2="32.5" y2="250.2" stroke="#000" stroke-width="1.3"/><line x1="62.5" y1="245" x2="62.5" y2="247.9" stroke="#000" stroke-width="1.3"/><line x1="92.5" y1="245" x2="92.5" y2="250.2" stroke="#000" stroke-width="1.3"/><line x1="122.5" y1="245" x2="122.5" y2="247.9" stroke="#000" stroke-width="1.3"/><line x1="152.5" y1="245" x2="152.5" y2="250.2" stroke="#000" stroke-width="1.3"/><line x1="182.5" y1="245" x2="182.5" y2="247.9" stroke="#000" stroke-width="1.3"/><line x1="212.5" y1="245" x2="212.5" y2="250.2" stroke="#000" stroke-width="1.3"/><line x1="242.5" y1="245" x2="242.5" y2="247.9" stroke="#000" stroke-width="1.3"/><line x1="272.5" y1="245" x2="272.5" y2="250.2" stroke="#000" stroke-width="1.3"/><line x1="302.5" y1="245" x2="302.5" y2="247.9" stroke="#000" stroke-width="1.3"/><line x1="332.5" y1="245" x2="332.5" y2="250.2" stroke="#000" stroke-width="1.3"/>
<g class="t">
<text x="32.5" y="264.2" text-anchor="middle">20</text><text x="92.5" y="264.2" text-anchor="middle">30</text><text x="152.5" y="264.2" text-anchor="middle">40</text><text x="212.5" y="264.2" text-anchor="middle">50</text><text x="272.5" y="264.2" text-anchor="middle">60</text><text x="332.5" y="264.2" text-anchor="middle">70</text>
<text x="182" y="276" text-anchor="middle">2θ (degree)</text>
<text transform="translate(12,130.5) rotate(-90)" text-anchor="middle">Indensity</text>
<text x="114.7" y="18.8" text-anchor="middle">x</text><text x="53.2" y="133.9" text-anchor="middle">x</text><text x="159.1" y="133.4" text-anchor="middle">x</text><text x="201.1" y="82.7" text-anchor="middle">x</text><text x="234.4" y="150.3" text-anchor="middle">x</text><text x="268.6" y="113.5" text-anchor="middle">x</text><text x="333.6" y="138.1" text-anchor="middle">x</text><text x="135.5" y="154.1" text-anchor="middle">o</text><text x="305" y="152" text-anchor="middle">o</text>
<text x="73" y="155">(c)</text>
<text x="72.7" y="189.3">(b)</text>
<text x="71.5" y="226">(a)</text>
<g style="font-size:13px">
<text x="236.5" y="41.8">x:</text>
<text x="255" y="41.8">LaCoO</text><text x="295.8" y="47.4" style="font-size:8px">3</text>
<text x="236.3" y="61">o:</text>
<text x="254.2" y="61">Co</text><text x="270.3" y="65.8" style="font-size:8px">3</text><text x="274.2" y="61">O</text><text x="285.4" y="65.6" style="font-size:8px">4</text>
</g>
</g>
</svg>
</body></html>
